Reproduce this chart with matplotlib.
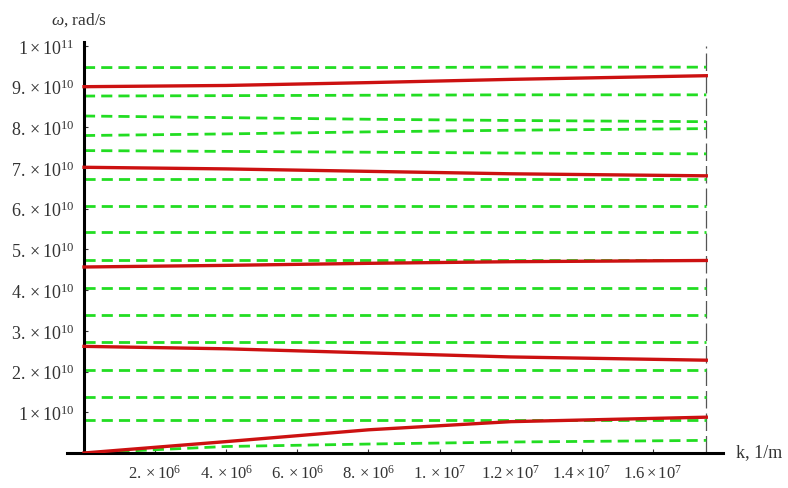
import matplotlib.pyplot as plt
import numpy as np

# wave number samples (1/m)
k = [0, 4e6, 8e6, 1.2e7, 1.75e7]

# solid branches, omega in units of 1e10 rad/s
red_branches = [
    [9.00, 9.03, 9.10, 9.18, 9.27],
    [7.02, 6.98, 6.92, 6.86, 6.81],
    [4.57, 4.61, 4.66, 4.70, 4.73],
    [2.62, 2.56, 2.46, 2.36, 2.28],
    [0.00, 0.28, 0.57, 0.77, 0.88],
]

# dashed branches, omega in units of 1e10 rad/s
green_branches = [
    [9.47, 9.47, 9.47, 9.48, 9.48],
    [8.77, 8.78, 8.79, 8.80, 8.80],
    [8.28, 8.24, 8.20, 8.17, 8.14],
    [7.80, 7.84, 7.89, 7.93, 7.97],
    [7.43, 7.41, 7.39, 7.37, 7.35],
    [6.72, 6.72, 6.72, 6.72, 6.72],
    [6.06, 6.06, 6.06, 6.06, 6.06],
    [5.44, 5.44, 5.44, 5.44, 5.44],
    [4.74, 4.74, 4.74, 4.74, 4.74],
    [4.05, 4.05, 4.05, 4.05, 4.05],
    [3.40, 3.40, 3.40, 3.40, 3.40],
    [2.72, 2.72, 2.72, 2.72, 2.72],
    [2.05, 2.05, 2.05, 2.05, 2.05],
    [1.37, 1.37, 1.37, 1.37, 1.37],
    [0.81, 0.81, 0.81, 0.81, 0.81],
    [0.00, 0.16, 0.22, 0.27, 0.31],
]

xticks = [2e6, 4e6, 6e6, 8e6, 1e7, 1.2e7, 1.4e7, 1.6e7]
xlabels = [r'$2.\times10^{6}$', r'$4.\times10^{6}$', r'$6.\times10^{6}$',
           r'$8.\times10^{6}$', r'$1.\times10^{7}$', r'$1.2\times10^{7}$',
           r'$1.4\times10^{7}$', r'$1.6\times10^{7}$']
yticks = [1e10, 2e10, 3e10, 4e10, 5e10, 6e10, 7e10, 8e10, 9e10, 1e11]
ylabels = [r'$1\times10^{10}$', r'$2.\times10^{10}$', r'$3.\times10^{10}$',
           r'$4.\times10^{10}$', r'$5.\times10^{10}$', r'$6.\times10^{10}$',
           r'$7.\times10^{10}$', r'$8.\times10^{10}$', r'$9.\times10^{10}$',
           r'$1\times10^{11}$']

plt.rcParams['font.family'] = 'Liberation Serif'
plt.rcParams['mathtext.fontset'] = 'custom'
plt.rcParams['mathtext.rm'] = 'Liberation Serif'
plt.rcParams['mathtext.it'] = 'Liberation Serif:italic'

fig = plt.figure(figsize=(7.88, 4.89), dpi=100)
ax = fig.add_axes([67 / 788, 35 / 489, 656 / 788, 411 / 489])

kk = np.array(k)
for g in green_branches:
    ax.plot(kk, np.array(g) * 1e10, color='#22dd22', lw=2.0,
            dashes=(4, 2.2), zorder=2)
for r in red_branches:
    ax.plot(kk, np.array(r) * 1e10, color='#cc1111', lw=2.4, zorder=3)

# boundary of the computed band
ax.axvline(k[-1], ymin=0.0, ymax=0.99, color='#555555', lw=0.9,
           dashes=(14, 4), zorder=1)

ax.set_xlim(-0.478e6, 1.797e7)
ax.set_ylim(0, 1.0098e11)
ax.spines['left'].set_position(('data', 0))
ax.set_xticks(xticks)
ax.set_xticklabels(xlabels)
ax.set_yticks(yticks)
ax.set_yticklabels(ylabels)
ax.tick_params(axis='both', direction='in', length=3, width=0.8,
               colors='#333333')
ax.tick_params(axis='x', pad=8, labelsize=12)
ax.tick_params(axis='y', pad=7, labelsize=13)

for s in ['top', 'right']:
    ax.spines[s].set_visible(False)
ax.spines['left'].set_linewidth(2.2)
ax.spines['bottom'].set_linewidth(2.2)

fig.text(79 / 788, 1 - 20 / 489, r'$\omega$, rad/s', fontsize=12.5,
         ha='center', va='center', color='#333333')
fig.text(759 / 788, 1 - 453 / 489, 'k, 1/m', fontsize=13,
         ha='center', va='center', color='#333333')

fig.savefig('out.png', dpi=100)
